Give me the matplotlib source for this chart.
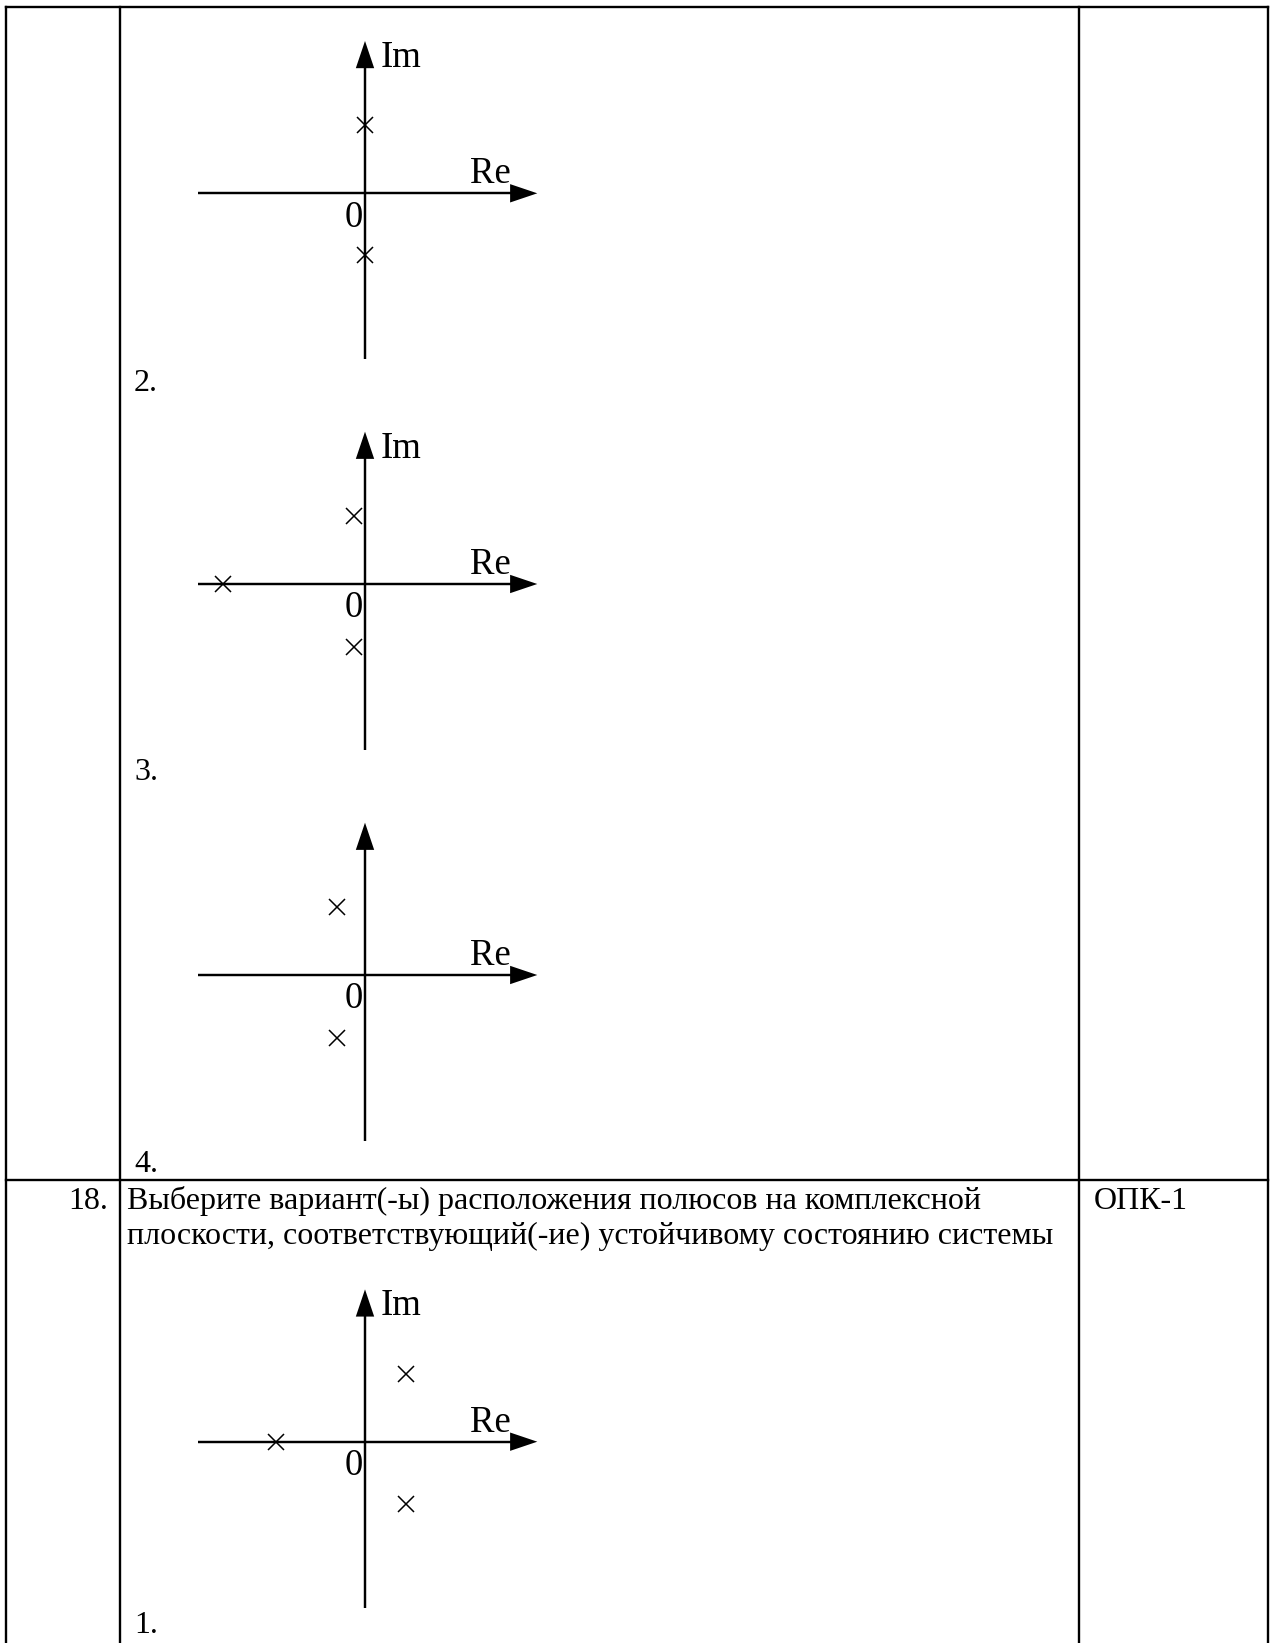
import matplotlib
matplotlib.use("Agg")
import matplotlib.pyplot as plt
from matplotlib.patches import Polygon

W, H = 1275, 1643
DPI = 100
PX = 68.0  # pixels per unit on the pole diagrams

plt.rcParams['font.family'] = ['Liberation Serif', 'DejaVu Serif']

# poles of each variant, (re, im) in diagram units
v2_re = [0.0, 0.0]
v2_im = [1.01, -0.91]
v3_re = [-0.16, -0.16, -2.09]
v3_im = [1.0, -0.92, 0.0]
v4_re = [-0.41, -0.41]
v4_im = [1.0, -0.92]
v1_re = [0.6, 0.6, -1.31]
v1_im = [1.0, -0.91, 0.0]

variant_labels = ["2.", "3.", "4.", "1."]
show_im = [True, True, False, True]

question_no = "18."
question_lines = ["Выберите вариант(-ы) расположения полюсов на комплексной",
                  "плоскости, соответствующий(-ие) устойчивому состоянию системы"]
competence = "ОПК-1"

BODY = 23
LABEL = 26.5


def draw_plane(fig, ox, oy, re, im, with_im):
    # ox, oy - origin of the plane in page pixels (from top-left)
    xl, yl = 2.8, 2.7
    ax = fig.add_axes([(ox - xl * PX) / W, (H - (oy + yl * PX)) / H,
                       2 * xl * PX / W, 2 * yl * PX / H])
    ax.set_xlim(-xl, xl)
    ax.set_ylim(-yl, yl)
    ax.axis('off')
    ax.patch.set_alpha(0)

    hl, hw = 0.40, 0.135
    x_left, x_tip = -2.45, 2.534
    y_bot, y_tip = -2.44, 2.24
    lw = 1.75
    ax.plot([x_left, x_tip - hl * 0.6], [0, 0], color='black', lw=lw, solid_capstyle='butt')
    ax.plot([0, 0], [y_bot, y_tip - hl * 0.6], color='black', lw=lw, solid_capstyle='butt')
    ax.add_patch(Polygon([(x_tip, 0), (x_tip - hl, hw), (x_tip - hl, -hw)],
                         closed=True, color='black', lw=0))
    ax.add_patch(Polygon([(0, y_tip), (hw, y_tip - hl), (-hw, y_tip - hl)],
                         closed=True, color='black', lw=0))

    ax.plot(re, im, 'x', color='black', ms=11.5, mew=1.1)

    ax.text(2.15, 0.15, "Re", fontsize=LABEL, ha='right', va='baseline')
    ax.text(-0.03, -0.49, "0", fontsize=LABEL, ha='right', va='baseline')
    if with_im:
        ax.text(0.235, 1.86, "Im", fontsize=LABEL, ha='left', va='baseline')
    return ax


fig = plt.figure(figsize=(W / DPI, H / DPI), dpi=DPI)
page = fig.add_axes([0, 0, 1, 1])
page.set_xlim(0, W)
page.set_ylim(H, 0)
page.axis('off')

# table grid
tlw = 1.7
x_left, x_c1, x_c2, x_right = 5.5, 120, 1079, 1268
y_top, y_row = 7, 1180
page.plot([x_left, x_right], [y_top, y_top], color='black', lw=tlw)
page.plot([x_left, x_right], [y_row, y_row], color='black', lw=tlw)
for xv in [x_left, x_c1, x_c2, x_right]:
    page.plot([xv, xv], [y_top, H], color='black', lw=tlw)

origins_y = [193.3, 584, 975, 1441.7]
poles = [(v2_re, v2_im), (v3_re, v3_im), (v4_re, v4_im), (v1_re, v1_im)]
label_base = [391, 780, 1171.5, 1633]
for oy, (re, im), flag, lab, yb in zip(origins_y, poles, show_im, variant_labels, label_base):
    draw_plane(fig, 365, oy, re, im, flag)
    page.text(134, yb, lab, fontsize=BODY, ha='left', va='baseline')

page.text(108, 1209, question_no, fontsize=BODY, ha='right', va='baseline')
page.text(127, 1209, question_lines[0], fontsize=BODY, ha='left', va='baseline')
page.text(127, 1244, question_lines[1], fontsize=BODY, ha='left', va='baseline')
page.text(1094, 1209, competence, fontsize=BODY, ha='left', va='baseline')

fig.savefig("out.png", dpi=DPI)
